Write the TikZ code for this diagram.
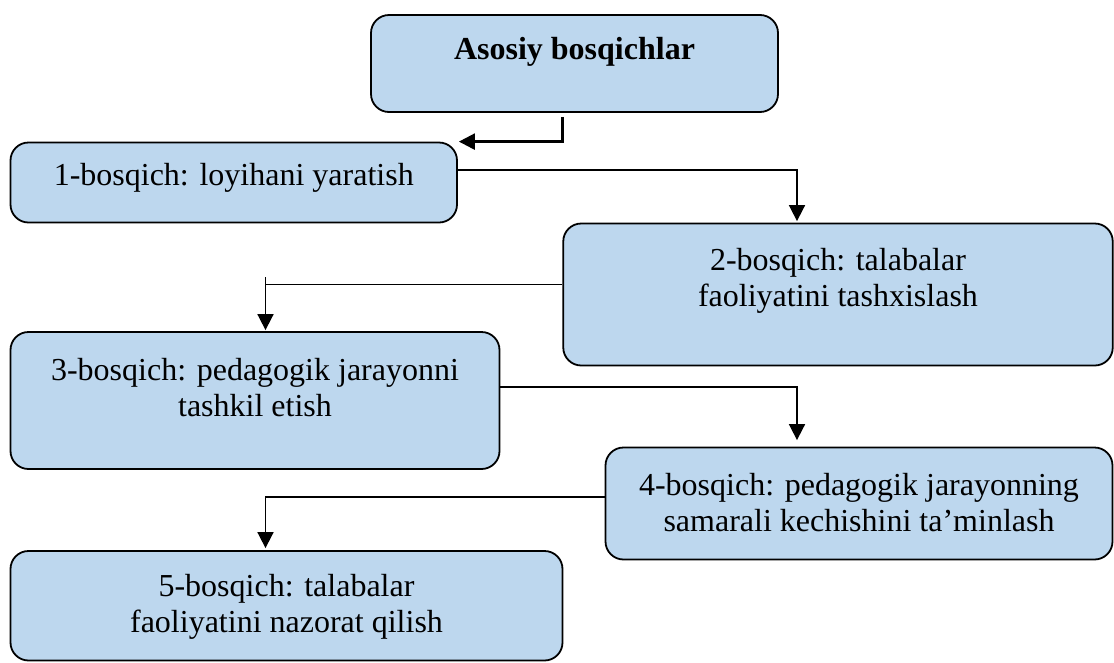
\documentclass[tikz,border=0pt]{standalone}
\usepackage{fontspec}
\setmainfont{Liberation Serif}
\usetikzlibrary{arrows.meta, calc}
\definecolor{stagefill}{HTML}{BDD7EE}
\tikzset{
>={Triangle[length=16pt,width=16pt]},
box/.style={%
    rectangle,
    rounded corners=18pt,
    draw=black,
    line width=1.8pt,
    fill=stagefill,
    inner sep=0pt
},
txt/.style={%
    align=center,
    font=\fontsize{32}{36}\selectfont
},
link/.style={draw=black, line width=1.7pt},
}

\begin{document}
\begin{tikzpicture}[x=1pt, y=-1pt]
	\useasboundingbox (0,0) rectangle (1114,662);
	% stages
	\node[box, minimum width=407, minimum height=97] (top) at (574.5,63.5) {};
	\node[box, minimum width=446.5, minimum height=80] (s1) at (233.75,182.5) {};
	\node[box, minimum width=549.5, minimum height=142] (s2) at (838,294.5) {};
	\node[box, minimum width=489, minimum height=137] (s3) at (255,400.5) {};
	\node[box, minimum width=507, minimum height=112] (s4) at (859,503.5) {};
	\node[box, minimum width=552, minimum height=109.5] (s5) at (286.5,605.75) {};

	% texts
	\node[txt, font=\fontsize{32}{36}\selectfont\bfseries] (top text) at ($(top.center)+(0,-12)$) {Asosiy bosqichlar};
	\node[txt] (s1 text) at ($(s1.center)+(0,-5)$) {1-bosqich: loyihani yaratish};
	\node[txt] (s2 text) at ($(s2.center)+(0,-14)$) {2-bosqich: talabalar\\faoliyatini tashxislash};
	\node[txt] (s3 text) at ($(s3.center)+(0,-12.5)$) {3-bosqich: pedagogik jarayonni\\tashkil etish};
	\node[txt] (s4 text) at ($(s4.center)+(0,-1)$) {4-bosqich: pedagogik jarayonning\\samarali kechishini ta’minlash};
	\node[txt] (s5 text) at ($(s5.center)+(0,1)$) {5-bosqich: talabalar\\faoliyatini nazorat qilish};

	% connectors
	\coordinate (rcol) at (797,0);
	\coordinate (lcol) at (265.5,0);
	\coordinate (j0) at ($(top.south)+(-12,4)$);
	\draw[link, line width=2.5pt, ->] (j0) |- ($(s1.north east)+(1,0)$);
	\draw[link, ->] ($(s1.east)+(0,-12.5)$) -| ($(s2.north -| rcol)+(0,-1.5)$);
	\draw[link] ($(s2.west)+(0,-10)$) -- ($(s2.west -| lcol)+(0,-10)$);
	\draw[link, ->] ($(s2.west -| lcol)+(0,-17.5)$) -- ($(s3.north -| lcol)+(0,-1)$);
	\draw[link, ->] ($(s3.east)+(0,-13.5)$) -| ($(s4.north -| rcol)+(0,-6.5)$);
	\draw[link, ->] ($(s4.west)+(0,-6.5)$) -| ($(s5.north -| lcol)+(0,-2)$);
\end{tikzpicture}
\end{document}
